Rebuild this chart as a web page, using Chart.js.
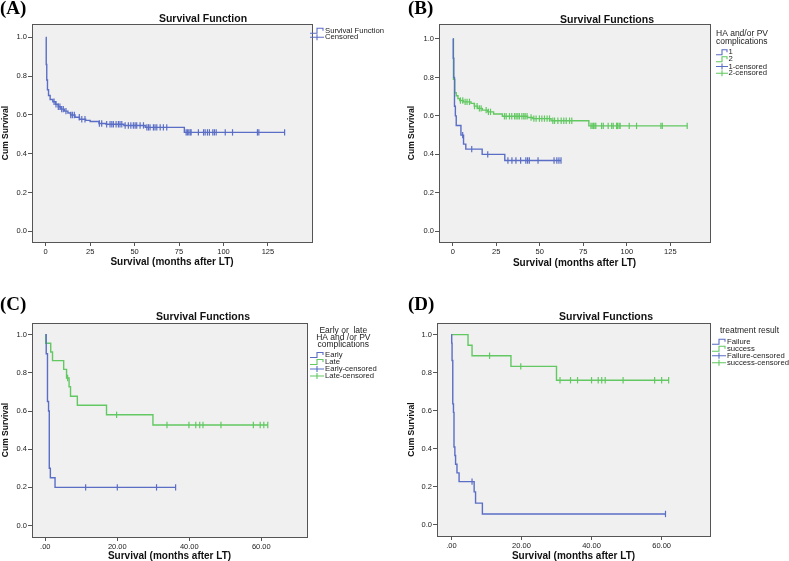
<!DOCTYPE html>
<html><head><meta charset="utf-8">
<script src="https://cdn.jsdelivr.net/npm/chart.js@4.4.0/dist/chart.umd.min.js"></script>
<style>
html,body{margin:0;padding:0;background:#fff;}
#wrap{position:relative;width:789px;height:561px;overflow:hidden;background:#fff;}
canvas{position:absolute;}
</style></head><body>
<div id="wrap">
<canvas id="cA" width="395" height="280" style="left:0;top:0;width:395px;height:280px"></canvas>
<canvas id="cB" width="394" height="280" style="left:395px;top:0;width:394px;height:280px"></canvas>
<canvas id="cC" width="395" height="281" style="left:0;top:280px;width:395px;height:281px"></canvas>
<canvas id="cD" width="394" height="281" style="left:395px;top:280px;width:394px;height:281px"></canvas>
</div>
<script>
// ---------------- DATA ----------------
// Panel A: overall survival
const timeA = [0,0.3,0.6,1.0,1.6,2.5,4.0,5.5,7.0,8.5,10.5,12.5,14,16.5,19,22.5,25,30,34,44,56,78,134.4];
const survA = [1.0,0.86,0.78,0.73,0.70,0.68,0.668,0.655,0.642,0.63,0.62,0.61,0.60,0.588,0.578,0.572,0.566,0.556,0.552,0.546,0.536,0.51,0.51];
const censTimeA = [4.7,5.8,7.1,8.0,9.0,9.9,11.4,14.1,15.0,16.1,18.9,20.3,22.1,30.2,31.5,
  34.3,36.2,37.2,38.1,39.6,40.9,41.8,42.8,
  44.7,46.5,47.9,49.3,50.3,51.2,53.1,55.0,
  56.9,57.8,58.7,60.6,61.5,62.5,64.4,66.2,68.1,
  79.0,79.7,80.5,81.3,81.8,85.9,88.8,89.7,91.0,92.1,94.0,94.9,95.9,101.0,105.1,119.1,119.9,134.4];
const censSurvA = [0.668,0.655,0.642,0.642,0.63,0.63,0.62,0.60,0.60,0.60,0.588,0.578,0.578,0.556,0.556,
  0.552,0.552,0.552,0.552,0.552,0.552,0.552,0.552,
  0.546,0.546,0.546,0.546,0.546,0.546,0.546,0.546,
  0.536,0.536,0.536,0.536,0.536,0.536,0.536,0.536,0.536,
  0.51,0.51,0.51,0.51,0.51,0.51,0.51,0.51,0.51,0.51,0.51,0.51,0.51,0.51,0.51,0.51,0.51,0.51];

// Panel B: group 1 / group 2
const time1B = [0,0.3,0.6,1.0,1.5,2.0,4.7,6.2,7.5,16.9,29.9,62.2];
const surv1B = [1.0,0.9,0.8,0.65,0.6,0.55,0.5,0.453,0.427,0.4,0.368,0.368];
const censTime1B = [5.7,10.9,20.1,31.7,34.0,36.3,39.0,42.0,43.0,44.0,49.0,58.2,59.8,61.0,62.2];
const censSurv1B = [0.5,0.427,0.4,0.368,0.368,0.368,0.368,0.368,0.368,0.368,0.368,0.368,0.368,0.368,0.368];
const time2B = [0,0.4,1.2,2,3,4,6,10.5,12.4,14.3,17,20,23.5,28.5,43,46,56.5,78.2,134.7];
const surv2B = [1.0,0.79,0.72,0.705,0.69,0.68,0.673,0.665,0.651,0.639,0.63,0.621,0.61,0.598,0.592,0.586,0.575,0.548,0.548];
const censTime2B = [4.4,5.75,7.1,8.2,9.6,12.5,14.0,15.3,16.3,19.2,20.5,21.7,
  29.7,30.7,32.6,33.9,35.5,36.4,37.4,38.3,39.7,40.8,41.6,42.7,
  45.0,
  46.6,47.9,49.8,51.2,52.7,54.2,55.6,
  57.5,58.5,60.4,62.3,63.8,65.2,67.1,68.4,
  79.4,80.1,80.9,81.7,82.2,85.5,86.5,89.3,91.3,92.2,94.1,94.7,95.6,96.2,101.4,105.6,119.6,120.4,134.7];
const censSurv2B = [0.68,0.68,0.673,0.673,0.673,0.651,0.651,0.639,0.639,0.63,0.621,0.621,
  0.598,0.598,0.598,0.598,0.598,0.598,0.598,0.598,0.598,0.598,0.598,0.598,
  0.592,
  0.586,0.586,0.586,0.586,0.586,0.586,0.586,
  0.575,0.575,0.575,0.575,0.575,0.575,0.575,0.575,
  0.548,0.548,0.548,0.548,0.548,0.548,0.548,0.548,0.548,0.548,0.548,0.548,0.548,0.548,0.548,0.548,0.548,0.548,0.548];

// Panel C: Early / Late
const timeEarlyC = [0,0.25,0.6,0.9,1.1,1.4,2.7,36.2];
const survEarlyC = [1.0,0.9,0.65,0.6,0.3,0.25,0.2,0.2];
const censTimeEarlyC = [11.2,20.0,30.9,36.2];
const censSurvEarlyC = [0.2,0.2,0.2,0.2];
const timeLateC = [0,0.1,1.5,2.0,5.1,5.9,6.6,7.0,8.9,17.0,29.9,61.8];
const survLateC = [1.0,0.955,0.909,0.864,0.818,0.773,0.727,0.677,0.63,0.58,0.527,0.527];
const censTimeLateC = [6.2,19.8,33.8,39.9,41.8,42.9,43.8,48.8,57.8,59.7,60.7,61.8];
const censSurvLateC = [0.773,0.58,0.527,0.527,0.527,0.527,0.527,0.527,0.527,0.527,0.527,0.527];

// Panel D: Failure / success
const timeFailD = [0,0.1,0.2,0.4,0.6,0.75,1.0,1.2,1.6,2.2,6.5,6.9,8.85,61.1];
const survFailD = [1.0,0.955,0.864,0.636,0.591,0.409,0.364,0.318,0.273,0.227,0.173,0.114,0.057,0.057];
const censTimeFailD = [5.9,61.1];
const censSurvFailD = [0.227,0.057];
const timeSuccD = [0,4.75,5.9,17.0,30.0,62.0];
const survSuccD = [1.0,0.944,0.889,0.833,0.76,0.76];
const censTimeSuccD = [10.9,19.8,31.0,34.0,36.0,40.0,41.9,42.9,43.9,49.0,58.0,60.0,62.0];
const censSurvSuccD = [0.889,0.833,0.76,0.76,0.76,0.76,0.76,0.76,0.76,0.76,0.76,0.76,0.76];

// Tick values / labels
const xTicksAB = [0,25,50,75,100,125];
const xTickLabelsAB = ['0','25','50','75','100','125'];
const xTicksCD = [0,20,40,60];
const xTickLabelsCD = ['.00','20.00','40.00','60.00'];
const yTicks = [0,0.2,0.4,0.6,0.8,1.0];
const yTickLabels = ['0.0','0.2','0.4','0.6','0.8','1.0'];

// ---------------- STYLE ----------------
const BLUE = '#5a6ec6';
const GREEN = '#62c862';
const SANS = '"Liberation Sans", Arial, sans-serif';

function pts(t, s){ return t.map((v,i)=>({x:v, y:s[i]})); }
function stepDs(label, t, s, color){
  return {label, data: pts(t,s), showLine:true, stepped:'before', borderColor:color, borderWidth:1.4,
          pointRadius:0, pointHoverRadius:0, fill:false};
}
function censDs(label, t, s, color){
  return {label, data: pts(t,s), showLine:false, borderColor:color, backgroundColor:color,
          pointStyle:'line', rotation:90, pointRadius:3.2, pointBorderWidth:1.2, pointHoverRadius:3};
}

function makeDeco(cfg){
  return {
    id:'deco_'+cfg.id,
    beforeDraw(chart){
      const {ctx, chartArea:a} = chart;
      ctx.save();
      ctx.fillStyle = '#f0f0f0';
      ctx.fillRect(a.left, a.top, a.right-a.left, a.bottom-a.top);
      ctx.restore();
    },
    afterDraw(chart){
      const {ctx, chartArea:a} = chart;
      ctx.save();
      ctx.strokeStyle = '#555'; ctx.lineWidth = 1;
      ctx.strokeRect(Math.round(a.left)+0.5, Math.round(a.top)+0.5, Math.round(a.right-a.left), Math.round(a.bottom-a.top));
      // panel label
      ctx.fillStyle = '#000';
      ctx.font = 'bold 19px "Liberation Serif", "Times New Roman", serif';
      ctx.textAlign = 'left'; ctx.textBaseline = 'alphabetic';
      ctx.fillText(cfg.label, cfg.labelX, cfg.labelY);
      // title
      ctx.font = 'bold 10.5px ' + SANS;
      ctx.textAlign = 'center'; ctx.textBaseline = 'middle';
      ctx.fillStyle = '#111';
      ctx.fillText(cfg.title, cfg.titleX, cfg.titleY);
      // legend header
      ctx.fillStyle = '#222';
      ctx.font = '8.5px ' + SANS;
      cfg.header.forEach(h => { ctx.textAlign = h.align; ctx.fillText(h.text, h.x, h.y); });
      // legend items
      ctx.font = '7.7px ' + SANS;
      ctx.textAlign = 'left';
      cfg.items.forEach(it => {
        ctx.strokeStyle = it.color; ctx.lineWidth = 1.1;
        const x0 = cfg.iconX, x1 = cfg.iconX + cfg.iconW, y = it.y;
        ctx.beginPath();
        const xm = x0 + cfg.iconW*0.5;
        if (it.kind === 'step') {
          ctx.moveTo(x0, y+2.5); ctx.lineTo(xm, y+2.5); ctx.lineTo(xm, y-2.5); ctx.lineTo(x1-1, y-2.5); ctx.lineTo(x1-1, y);
        } else {
          ctx.moveTo(x0, y); ctx.lineTo(x1, y);
          ctx.moveTo(xm, y-3); ctx.lineTo(xm, y+3);
        }
        ctx.stroke();
        ctx.fillStyle = '#222';
        ctx.fillText(it.text, cfg.textX, y);
      });
      ctx.restore();
    }
  };
}

function build(cfg){
  const el = document.getElementById(cfg.id);
  const W = el.width, H = el.height;
  new Chart(el, {
    type:'scatter',
    data:{datasets: cfg.datasets},
    options:{
      responsive:false, animation:false, devicePixelRatio:1,
      layout:{padding:{left:0, top:cfg.frame.top, right:W-cfg.frame.right, bottom:0}},
      plugins:{legend:{display:false}, title:{display:false}, tooltip:{enabled:false}},
      events:[],
      scales:{
        x:{type:'linear', min:cfg.xMin, max:cfg.xMax,
           afterBuildTicks: s => { s.ticks = cfg.xTicks.map(v=>({value:v})); },
           afterFit: s => { s.height = H - cfg.frame.bottom; },
           ticks:{autoSkip:false, maxRotation:0, padding:1, color:'#222', font:{family:SANS, size:7.5},
                  callback:(v,i)=>cfg.xLabels[i]},
           grid:{display:true, drawOnChartArea:false, drawTicks:true, tickLength:4, color:'#555'},
           border:{display:false},
           title:{display:true, text:'Survival (months after LT)', color:'#111',
                  font:{family:SANS, size:10, weight:'bold', lineHeight:1},
                  padding:{top:cfg.xTitlePad, bottom:cfg.xTitlePad}}},
        y:{type:'linear', min:cfg.yMin, max:cfg.yMax,
           afterBuildTicks: s => { s.ticks = yTicks.map(v=>({value:v})); },
           afterFit: s => { s.width = cfg.frame.left; },
           ticks:{autoSkip:false, padding:1, color:'#222', font:{family:SANS, size:7.5},
                  callback:(v,i)=>yTickLabels[i]},
           grid:{display:true, drawOnChartArea:false, drawTicks:true, tickLength:4, color:'#555'},
           border:{display:false},
           title:{display:true, text:'Cum Survival', color:'#111',
                  font:{family:SANS, size:8.5, weight:'bold', lineHeight:1},
                  padding:{top:cfg.yTitlePad, bottom:0}}}
      }
    },
    plugins:[makeDeco(cfg)]
  });
}

build({
  id:'cA', label:'(A)', labelX:0, labelY:14, title:'Survival Function', titleX:203, titleY:19.5,
  frame:{left:32, top:24, right:312, bottom:242},
  xMin:-7.7, xMax:149.8, yMin:-0.055, yMax:1.069,
  xTicks:xTicksAB, xLabels:xTickLabelsAB, xTitlePad:13, yTitlePad:1,
  header:[], iconX:310, iconW:14, textX:325,
  items:[{kind:'step', color:BLUE, text:'Survival Function', y:30.7},
         {kind:'cens', color:BLUE, text:'Censored', y:37.3}],
  datasets:[stepDs('Survival Function', timeA, survA, BLUE), censDs('Censored', censTimeA, censSurvA, BLUE)]
});

build({
  id:'cB', label:'(B)', labelX:13, labelY:14, title:'Survival Functions', titleX:212, titleY:20,
  frame:{left:44, top:24, right:315, bottom:242},
  xMin:-7.9, xMax:147.8, yMin:-0.056, yMax:1.078,
  xTicks:xTicksAB, xLabels:xTickLabelsAB, xTitlePad:12, yTitlePad:12.5,
  header:[{text:'HA and/or PV', x:321, y:33.3, align:'left'}, {text:'complications', x:321, y:41.7, align:'left'}],
  iconX:321, iconW:12, textX:333.5,
  items:[{kind:'step', color:BLUE, text:'1', y:52.3},
         {kind:'step', color:GREEN, text:'2', y:59.3},
         {kind:'cens', color:BLUE, text:'1-censored', y:66.5},
         {kind:'cens', color:GREEN, text:'2-censored', y:73.3}],
  datasets:[stepDs('1', time1B, surv1B, BLUE), stepDs('2', time2B, surv2B, GREEN),
            censDs('1-censored', censTime1B, censSurv1B, BLUE), censDs('2-censored', censTime2B, censSurv2B, GREEN)]
});

build({
  id:'cC', label:'(C)', labelX:0, labelY:30, title:'Survival Functions', titleX:203, titleY:37.3,
  frame:{left:32, top:43, right:307, bottom:257},
  xMin:-3.7, xMax:72.7, yMin:-0.06, yMax:1.061,
  xTicks:xTicksCD, xLabels:xTickLabelsCD, xTitlePad:0, yTitlePad:1,
  header:[{text:'Early or  late', x:343.3, y:50.7, align:'center'},
          {text:'HA and /or PV', x:343.3, y:57.7, align:'center'},
          {text:'complications', x:343.3, y:64.5, align:'center'}],
  iconX:310, iconW:14, textX:325,
  items:[{kind:'step', color:BLUE, text:'Early', y:75},
         {kind:'step', color:GREEN, text:'Late', y:82},
         {kind:'cens', color:BLUE, text:'Early-censored', y:89},
         {kind:'cens', color:GREEN, text:'Late-censored', y:96}],
  datasets:[stepDs('Early', timeEarlyC, survEarlyC, BLUE), stepDs('Late', timeLateC, survLateC, GREEN),
            censDs('Early-censored', censTimeEarlyC, censSurvEarlyC, BLUE), censDs('Late-censored', censTimeLateC, censSurvLateC, GREEN)]
});

build({
  id:'cD', label:'(D)', labelX:13, labelY:30, title:'Survival Functions', titleX:211, titleY:37.3,
  frame:{left:42, top:43, right:315, bottom:256},
  xMin:-4.1, xMax:73.8, yMin:-0.059, yMax:1.061,
  xTicks:xTicksCD, xLabels:xTickLabelsCD, xTitlePad:0, yTitlePad:12.5,
  header:[{text:'treatment result', x:325, y:51, align:'left'}],
  iconX:317, iconW:14, textX:332,
  items:[{kind:'step', color:BLUE, text:'Failure', y:61.7},
         {kind:'step', color:GREEN, text:'success', y:68.7},
         {kind:'cens', color:BLUE, text:'Failure-censored', y:75.7},
         {kind:'cens', color:GREEN, text:'success-censored', y:82.7}],
  datasets:[stepDs('Failure', timeFailD, survFailD, BLUE), stepDs('success', timeSuccD, survSuccD, GREEN),
            censDs('Failure-censored', censTimeFailD, censSurvFailD, BLUE), censDs('success-censored', censTimeSuccD, censSurvSuccD, GREEN)]
});
</script>
</body></html>
